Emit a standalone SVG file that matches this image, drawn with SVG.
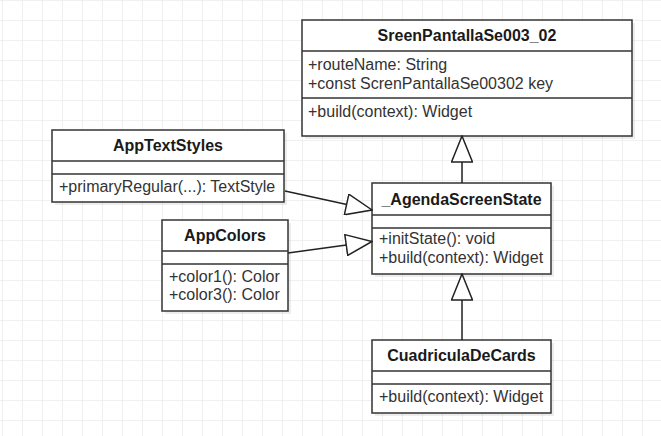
<svg xmlns="http://www.w3.org/2000/svg" width="661" height="436" viewBox="0 0 661 436">
  <defs>
    <pattern id="grid" x="2" y="0" width="20" height="20" patternUnits="userSpaceOnUse">
      <path d="M0,0 V20 M0,0 H20" fill="none" stroke="#ebebeb" stroke-width="1.5"/>
    </pattern>
    <marker id="inherit" markerUnits="userSpaceOnUse" markerWidth="28" markerHeight="22" viewBox="0 0 28 22" refX="27" refY="11" orient="auto">
      <path d="M1,0.5 L27,11 L1,21.5 Z" fill="#fff" stroke="#222" stroke-width="1.5" stroke-linejoin="miter"/>
    </marker>
  </defs>
  <style>
    .box { fill: #fff; stroke: #333; stroke-width: 1.5; }
    .shadow { fill: #000; fill-opacity: 0.07; }
    .sep { stroke: #333; stroke-width: 1.5; }
    .title { font-family: "Liberation Sans", Arial, sans-serif; font-size: 16px; font-weight: bold; fill: #1a1a1a; text-anchor: middle; }
    .member { font-family: "Liberation Sans", Arial, sans-serif; font-size: 16px; fill: #333; }
    .edge { fill: none; stroke: #222; stroke-width: 1.5; marker-end: url(#inherit); }
  </style>

  <!-- background grid -->
  <rect x="0" y="0" width="661" height="436" fill="#fff"/>
  <rect x="0" y="0" width="661" height="436" fill="url(#grid)"/>

  <!-- SreenPantallaSe003_02 -->
  <g id="sreen-pantalla">
    <rect class="shadow" x="305" y="23" width="330" height="116"/>
    <rect class="box" x="302" y="20" width="330" height="116"/>
    <line class="sep" x1="302" y1="51" x2="632" y2="51"/>
    <line class="sep" x1="302" y1="98" x2="632" y2="98"/>
    <text class="title" x="467" y="41">SreenPantallaSe003_02</text>
    <text class="member" x="308" y="70">+routeName: String</text>
    <text class="member" x="308" y="89">+const ScrenPantallaSe00302 key</text>
    <text class="member" x="308" y="117">+build(context): Widget</text>
  </g>

  <!-- AppTextStyles -->
  <g id="app-text-styles">
    <rect class="shadow" x="55" y="133" width="232" height="72"/>
    <rect class="box" x="52" y="130" width="232" height="72"/>
    <line class="sep" x1="52" y1="161" x2="284" y2="161"/>
    <line class="sep" x1="52" y1="174" x2="284" y2="174"/>
    <text class="title" x="168" y="151">AppTextStyles</text>
    <text class="member" x="59" y="192">+primaryRegular(...): TextStyle</text>
  </g>

  <!-- AppColors -->
  <g id="app-colors">
    <rect class="shadow" x="165" y="223" width="126" height="91"/>
    <rect class="box" x="162" y="220" width="126" height="91"/>
    <line class="sep" x1="162" y1="251" x2="288" y2="251"/>
    <line class="sep" x1="162" y1="264" x2="288" y2="264"/>
    <text class="title" x="225" y="241">AppColors</text>
    <text class="member" x="169" y="282">+color1(): Color</text>
    <text class="member" x="169" y="300">+color3(): Color</text>
  </g>

  <!-- _AgendaScreenState -->
  <g id="agenda-screen-state">
    <rect class="shadow" x="375" y="186" width="179" height="91"/>
    <rect class="box" x="372" y="183" width="179" height="91"/>
    <line class="sep" x1="372" y1="215" x2="551" y2="215"/>
    <line class="sep" x1="372" y1="228" x2="551" y2="228"/>
    <text class="title" x="461.5" y="205">_AgendaScreenState</text>
    <text class="member" x="379" y="244">+initState(): void</text>
    <text class="member" x="379" y="263">+build(context): Widget</text>
  </g>

  <!-- CuadriculaDeCards -->
  <g id="cuadricula-de-cards">
    <rect class="shadow" x="375" y="343" width="179" height="73"/>
    <rect class="box" x="372" y="340" width="179" height="73"/>
    <line class="sep" x1="372" y1="371" x2="551" y2="371"/>
    <line class="sep" x1="372" y1="384" x2="551" y2="384"/>
    <text class="title" x="461.5" y="361">CuadriculaDeCards</text>
    <text class="member" x="379" y="402">+build(context): Widget</text>
  </g>

  <!-- generalization connectors -->
  <g id="connectors">
    <path class="edge" d="M285,191 L372,210"/>
    <path class="edge" d="M288,253 L372,241.5"/>
    <path class="edge" d="M462,183 L462,136"/>
    <path class="edge" d="M462,340 L462,274"/>
  </g>
</svg>
